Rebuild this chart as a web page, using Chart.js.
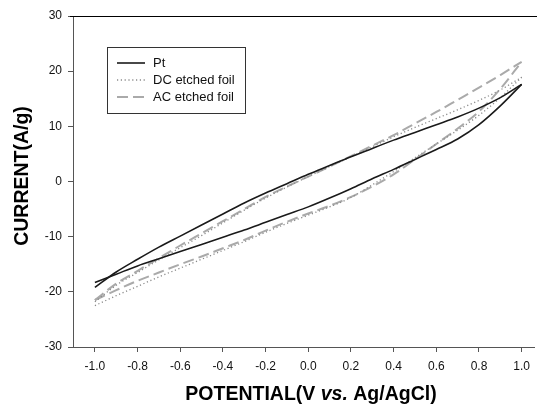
<!DOCTYPE html>
<html><head><meta charset="utf-8">
<script src="https://cdn.jsdelivr.net/npm/chart.js@4.4.1/dist/chart.umd.min.js"></script>
<style>html,body{margin:0;padding:0;background:#fff}#wrap{width:537px;height:406px;position:relative}</style>
</head><body><div id="wrap"><canvas id="c"></canvas></div>
<script>
// Potential (V vs. Ag/AgCl), ascending
const potential = [-1.0,-0.9,-0.8,-0.7,-0.6,-0.5,-0.4,-0.3,-0.2,-0.1,0.0,0.1,0.2,0.3,0.4,0.5,0.6,0.7,0.8,0.9,1.0];
// Current (A/g): forward (anodic) and reverse (cathodic) branches, listed in ascending potential order
const ptForward = [-19.2,-16.4,-14.1,-11.9,-9.9,-7.9,-5.9,-3.9,-2.1,-0.4,1.3,2.9,4.5,6.0,7.5,8.9,10.3,11.7,13.3,15.2,17.6];
const ptReverse = [-18.3,-16.8,-15.3,-14.0,-12.7,-11.4,-10.1,-8.8,-7.4,-6.0,-4.6,-3.0,-1.3,0.5,2.2,4.0,5.8,7.7,10.3,13.7,17.6];
const dcForward = [-21.8,-18.8,-16.5,-14.2,-12.0,-9.8,-7.5,-5.2,-3.0,-1.0,0.9,2.7,4.5,6.3,8.1,9.8,11.4,13.0,14.7,16.6,18.9];
const dcReverse = [-22.5,-20.7,-19.0,-17.3,-15.7,-14.1,-12.5,-10.9,-9.2,-7.6,-6.1,-4.6,-2.9,-0.6,1.8,4.3,6.8,9.3,12.0,15.2,18.9];
const acForward = [-21.5,-18.5,-16.2,-13.9,-11.6,-9.4,-7.2,-5.0,-2.8,-0.9,0.9,2.7,4.6,6.5,8.4,10.5,12.6,14.8,17.0,19.3,21.7];
const acReverse = [-21.5,-19.7,-18.0,-16.5,-15.0,-13.6,-12.1,-10.6,-8.9,-7.3,-5.8,-4.4,-2.8,-0.9,1.3,4.0,6.8,9.6,12.7,16.8,21.7];
const seriesNames = ['Pt','DC etched foil','AC etched foil'];
const xTicks = [-1.0,-0.8,-0.6,-0.4,-0.2,0.0,0.2,0.4,0.6,0.8,1.0];
const yTicks = [-30,-20,-10,0,10,20,30];

const FONT = "'Liberation Sans', Arial, sans-serif";
const styles = [
  {color:'#1a1a1a', width:1.6, dash:[]},
  {color:'#8a8a8a', width:1.3, dash:[1.2,2.6]},
  {color:'#aaaaaa', width:2.0, dash:[11,5]}
];
function pts(arr){ return potential.map((v,i)=>({x:v,y:arr[i]})); }
function ds(arr, s){
  const st = styles[s];
  return {label: seriesNames[s], data: pts(arr), showLine:true, pointRadius:0,
    borderColor: st.color, borderWidth: st.width, borderDash: st.dash,
    cubicInterpolationMode:'monotone', fill:false};
}

const overlay = {
  id:'overlay',
  afterDraw(chart){
    const ctx = chart.ctx, a = chart.chartArea;
    ctx.save();
    // top frame line
    ctx.strokeStyle = '#000'; ctx.lineWidth = 1; ctx.setLineDash([]);
    ctx.beginPath(); ctx.moveTo(a.left-3, a.top+0.5); ctx.lineTo(chart.width, a.top+0.5); ctx.stroke();
    // y title
    ctx.fillStyle = '#000';
    ctx.save();
    ctx.translate(23, 176); ctx.rotate(-Math.PI/2);
    ctx.font = 'bold 19.5px ' + FONT; ctx.textAlign='center'; ctx.textBaseline='middle';
    ctx.fillText('CURRENT(A/g)', 0, 0);
    ctx.restore();
    // x title with italic "vs."
    const parts = [['POTENTIAL(V ', 'bold 19.5px '], ['vs.', 'italic bold 19.5px '], [' Ag/AgCl)', 'bold 19.5px ']];
    let total = 0;
    parts.forEach(p=>{ ctx.font = p[1]+FONT; total += ctx.measureText(p[0]).width; });
    let x = 311 - total/2;
    ctx.textAlign='left'; ctx.textBaseline='middle';
    parts.forEach(p=>{ ctx.font = p[1]+FONT; ctx.fillText(p[0], x, 395); x += ctx.measureText(p[0]).width; });
    // legend
    ctx.strokeStyle = '#333'; ctx.lineWidth = 1;
    ctx.strokeRect(107.5, 47.5, 138, 66);
    const rowsY = [63, 80, 97];
    ctx.font = '13px ' + FONT; ctx.textBaseline='middle';
    seriesNames.forEach((n,i)=>{
      const st = styles[i];
      ctx.strokeStyle = st.color; ctx.lineWidth = st.width; ctx.setLineDash(st.dash);
      ctx.beginPath(); ctx.moveTo(117, rowsY[i]); ctx.lineTo(145, rowsY[i]); ctx.stroke();
      ctx.setLineDash([]);
      ctx.fillStyle = '#111';
      ctx.fillText(n, 153, rowsY[i]);
    });
    ctx.restore();
  }
};

new Chart(document.getElementById('c'), {
  type:'scatter',
  data:{datasets:[
    ds(ptForward,0), ds(ptReverse,0),
    ds(dcForward,1), ds(dcReverse,1),
    ds(acForward,2), ds(acReverse,2)
  ]},
  options:{
    responsive:true, maintainAspectRatio:false, animation:false,
    layout:{padding:{top:16,left:0,right:0,bottom:0}},
    plugins:{legend:{display:false}, tooltip:{enabled:false}},
    scales:{
      x:{type:'linear', min:-1.1026, max:1.061,
        afterBuildTicks(s){ s.ticks = xTicks.map(v=>({value:v})); },
        afterFit(s){ s.height = 59; },
        grid:{drawOnChartArea:false, drawTicks:true, tickLength:5, color:'#555'},
        border:{color:'#555', width:1},
        ticks:{color:'#111', font:{family:FONT, size:12}, padding:7, maxRotation:0, autoSkip:false,
          callback:v=> Math.abs(v)<1e-9 ? '0.0' : Number(v).toFixed(1)}
      },
      y:{type:'linear', min:-30, max:30,
        afterBuildTicks(s){ s.ticks = yTicks.map(v=>({value:v})); },
        afterFit(s){ s.width = 73; },
        grid:{drawOnChartArea:false, drawTicks:true, tickLength:5, color:'#555'},
        border:{color:'#555', width:1},
        ticks:{color:'#111', font:{family:FONT, size:12}, padding:6}
      }
    }
  },
  plugins:[overlay]
});
</script></body></html>
